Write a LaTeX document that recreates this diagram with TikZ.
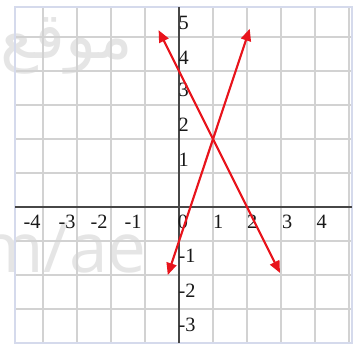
\documentclass[tikz,border=0pt]{standalone}
\usepackage{fontspec}
\setmainfont{Liberation Serif}
\newfontfamily\arabicfont[Script=Arabic]{DejaVu Sans}
\newfontfamily\markfont{Open Sans}
\TeXXeTstate=1
\usepackage{xcolor}
\usetikzlibrary{arrows.meta,positioning,calc}
\definecolor{gridgray}{HTML}{D2D2D2}
\definecolor{frameblue}{HTML}{D5DAEC}
\definecolor{axisgray}{HTML}{474747}
\definecolor{rayred}{HTML}{E8141C}

\begin{document}
\begin{tikzpicture}[
    gridln/.style={draw=gridgray, line width=1.2pt},
    framebox/.style={draw=frameblue, line width=1.1pt},
    axisln/.style={draw=axisgray, line width=1.7pt},
    tick/.style={font=\fontsize{17}{17}\selectfont, text=black!90, inner sep=0pt},
    ray/.style={draw=rayred, line width=1.8pt, {Triangle[length=10pt,width=8.5pt]}-{Triangle[length=10pt,width=8.5pt]}},
    wm/.style={text=black!10, inner sep=0pt}
]
\useasboundingbox (-5.265,-4.088) rectangle (5.324,6.088);

% --- Watermark ---
\begin{scope}
\clip (-5.265,-4.088) rectangle (5.324,6.088);
\node[wm, font=\arabicfont\fontsize{54}{54}\selectfont] (wmar) at (-3.3,4.75) {\beginR موقع\endR};
\node[wm, font=\markfont\fontsize{58}{58}\selectfont, anchor=base east] (wmlat) at (-0.94,-1.93) {m/ae};
\end{scope}

% --- Grid ---
\foreach \x in {-4,...,5}
  \draw[gridln] (\x,-4) -- (\x,5.88);
\foreach \y in {-3,...,5}
  \draw[gridln] (-4.82,\y) -- (5.09,\y);
\draw[framebox] (-4.82,-4) rectangle (5.09,5.88);

% --- Axes ---
\draw[axisln] (-4.82,0) -- (5.09,0);
\draw[axisln] (0,-4) -- (0,5.88);

% --- Tick labels ---
\foreach \v/\p in {-4/-4.32,-3/-3.29,-2/-2.35,-1/-1.35,0/0.12,1/1.15,2/2.15,3/3.18,4/4.2}
  \node[tick] (xl\v) at (\p,-0.45) {\v};
\foreach \v/\p in {5/5.41,4/4.38,3/3.44,2/2.41,1/1.38,-1/-1.44,-2/-2.47,-3/-3.47}
  \node[tick, anchor=west] (yl\v) at (-0.02,\p) {\v};

% --- Lines ---
\coordinate (a1) at (-0.33,-2);
\coordinate (a2) at (2.08,5.24);
\coordinate (b1) at (-0.6,5.2);
\coordinate (b2) at (2.97,-1.94);
\draw[ray] (a1) -- (a2);
\draw[ray] (b1) -- (b2);
\end{tikzpicture}
\end{document}
